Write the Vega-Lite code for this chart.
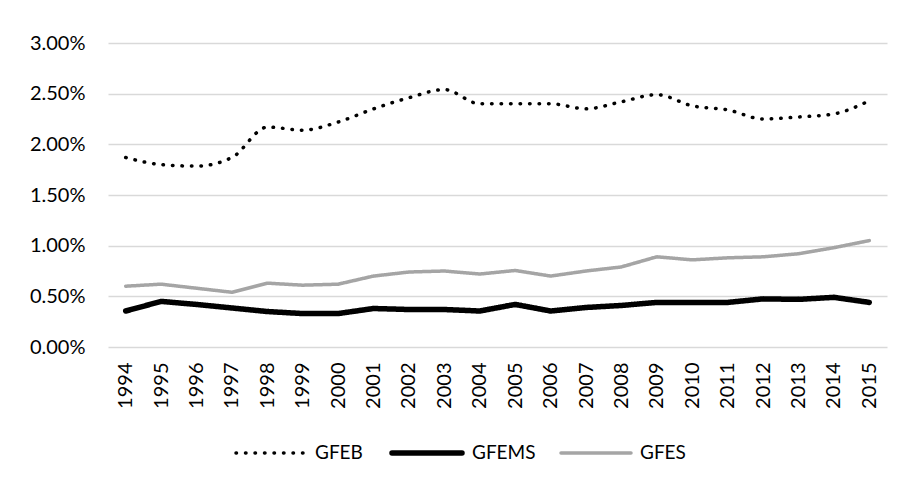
{
  "$schema": "https://vega.github.io/schema/vega-lite/v6.json",
  "autosize": {"type": "none"},
  "width": 779,
  "height": 304,
  "padding": {"left": 108, "top": 43, "right": 17, "bottom": 138},
  "background": "white",
  "config": {
    "font": "Lato",
    "view": {"stroke": null},
    "axis": {"labelFont": "Lato", "labelColor": "#000000", "labelFontSize": 20}
  },
  "data": {"values": [
    {"year":"1994","series":"GFEB","value":0.0187},{"year":"1995","series":"GFEB","value":0.0180},{"year":"1996","series":"GFEB","value":0.01785},{"year":"1997","series":"GFEB","value":0.0187},{"year":"1998","series":"GFEB","value":0.0217},{"year":"1999","series":"GFEB","value":0.0214},{"year":"2000","series":"GFEB","value":0.0222},{"year":"2001","series":"GFEB","value":0.0235},{"year":"2002","series":"GFEB","value":0.0246},{"year":"2003","series":"GFEB","value":0.0254},{"year":"2004","series":"GFEB","value":0.0240},{"year":"2005","series":"GFEB","value":0.0240},{"year":"2006","series":"GFEB","value":0.0240},{"year":"2007","series":"GFEB","value":0.0235},{"year":"2008","series":"GFEB","value":0.0242},{"year":"2009","series":"GFEB","value":0.0249},{"year":"2010","series":"GFEB","value":0.0238},{"year":"2011","series":"GFEB","value":0.0234},{"year":"2012","series":"GFEB","value":0.0225},{"year":"2013","series":"GFEB","value":0.0227},{"year":"2014","series":"GFEB","value":0.0230},{"year":"2015","series":"GFEB","value":0.0243},
    {"year":"1994","series":"GFEMS","value":0.00355},{"year":"1995","series":"GFEMS","value":0.0045},{"year":"1996","series":"GFEMS","value":0.0042},{"year":"1997","series":"GFEMS","value":0.00385},{"year":"1998","series":"GFEMS","value":0.0035},{"year":"1999","series":"GFEMS","value":0.0033},{"year":"2000","series":"GFEMS","value":0.0033},{"year":"2001","series":"GFEMS","value":0.0038},{"year":"2002","series":"GFEMS","value":0.0037},{"year":"2003","series":"GFEMS","value":0.0037},{"year":"2004","series":"GFEMS","value":0.00355},{"year":"2005","series":"GFEMS","value":0.0042},{"year":"2006","series":"GFEMS","value":0.00355},{"year":"2007","series":"GFEMS","value":0.0039},{"year":"2008","series":"GFEMS","value":0.0041},{"year":"2009","series":"GFEMS","value":0.0044},{"year":"2010","series":"GFEMS","value":0.0044},{"year":"2011","series":"GFEMS","value":0.0044},{"year":"2012","series":"GFEMS","value":0.00475},{"year":"2013","series":"GFEMS","value":0.0047},{"year":"2014","series":"GFEMS","value":0.0049},{"year":"2015","series":"GFEMS","value":0.0044},
    {"year":"1994","series":"GFES","value":0.0060},{"year":"1995","series":"GFES","value":0.0062},{"year":"1996","series":"GFES","value":0.0058},{"year":"1997","series":"GFES","value":0.0054},{"year":"1998","series":"GFES","value":0.0063},{"year":"1999","series":"GFES","value":0.0061},{"year":"2000","series":"GFES","value":0.0062},{"year":"2001","series":"GFES","value":0.0070},{"year":"2002","series":"GFES","value":0.0074},{"year":"2003","series":"GFES","value":0.0075},{"year":"2004","series":"GFES","value":0.0072},{"year":"2005","series":"GFES","value":0.00755},{"year":"2006","series":"GFES","value":0.0070},{"year":"2007","series":"GFES","value":0.0075},{"year":"2008","series":"GFES","value":0.0079},{"year":"2009","series":"GFES","value":0.0089},{"year":"2010","series":"GFES","value":0.0086},{"year":"2011","series":"GFES","value":0.0088},{"year":"2012","series":"GFES","value":0.0089},{"year":"2013","series":"GFES","value":0.0092},{"year":"2014","series":"GFES","value":0.0098},{"year":"2015","series":"GFES","value":0.0105}
  ]},
  "encoding": {
    "x": {"field": "year", "type": "ordinal", "scale": {"type": "point", "padding": 0.5},
      "axis": {"title": null, "labelAngle": -90, "labelPadding": 15, "domain": false, "ticks": false, "grid": false}},
    "y": {"field": "value", "type": "quantitative", "scale": {"domain": [0, 0.03], "nice": false},
      "axis": {"title": null, "values": [0, 0.005, 0.01, 0.015, 0.02, 0.025, 0.03], "format": ".2%", "domain": false, "ticks": false, "labelPadding": 23, "gridColor": "#D9D9D9", "gridWidth": 1.5}},
    "color": {"field": "series", "type": "nominal", "scale": {"domain": ["GFEB", "GFEMS", "GFES"], "range": ["#000000", "#000000", "#A5A5A5"]},
      "legend": {"title": null, "orient": "none", "legendX": 126, "legendY": 372, "direction": "horizontal", "symbolSize": 4900, "symbolType": "stroke", "labelFont": "Lato", "labelFontSize": 19, "labelColor": "#000000", "columnPadding": 18, "labelOffset": 7,
        "encode": {"symbols": {"update": {"strokeCap": {"value": "round"}}}}}},
    "strokeDash": {"field": "series", "type": "nominal", "scale": {"domain": ["GFEB", "GFEMS", "GFES"], "range": [[0.5, 9], [1, 0], [1, 0]]}},
    "strokeWidth": {"field": "series", "type": "nominal", "scale": {"type": "ordinal", "domain": ["GFEB", "GFEMS", "GFES"], "range": [3.5, 5.5, 3.5]}}
  },
  "layer": [
    {"transform": [{"filter": "datum.series == 'GFES' || datum.series == 'GFEMS'"}], "mark": {"type": "line", "strokeCap": "round", "strokeJoin": "round"}},
    {"transform": [{"filter": "datum.series == 'GFEB'"}], "mark": {"type": "line", "interpolate": "monotone", "strokeCap": "round"}}
  ]
}
